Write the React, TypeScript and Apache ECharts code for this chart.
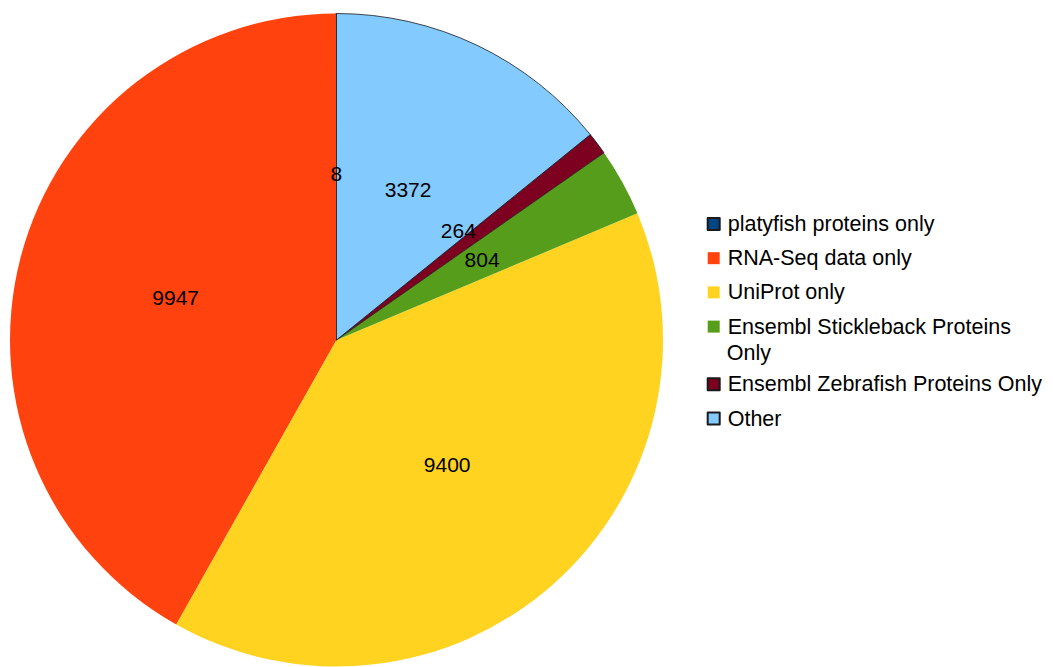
import React, { useEffect, useRef } from "react";
import * as echarts from "echarts";

const categories = [
  "platyfish proteins only",
  "RNA-Seq data only",
  "UniProt only",
  "Ensembl Stickleback Proteins Only",
  "Ensembl Zebrafish Proteins Only",
  "Other",
];
const values = [8, 9947, 9400, 804, 264, 3372];
const colors = ["#004586", "#ff420e", "#ffd320", "#579d1c", "#7e0021", "#83caff"];
const bordered = [true, false, false, false, true, true];

const FONT = "'Liberation Sans', Arial, sans-serif";

export default function App() {
  const ref = useRef<HTMLDivElement>(null);
  useEffect(() => {
    if (!ref.current) return;
    const chart = echarts.init(ref.current, undefined, { renderer: "svg" });
    const legendText = {
      fontFamily: FONT,
      fontSize: 21.5,
      color: "#000",
      lineHeight: 21.5,
      padding: [0, 0, 0, 3],
    };
    chart.setOption({
      animation: false,
      backgroundColor: "#fff",
      legend: [
        {
          data: categories.slice(0, 4),
          orient: "vertical",
          left: 706.7,
          top: 213,
          padding: 0,
          itemWidth: 12,
          itemHeight: 12,
          itemGap: 12.2,
          icon: "rect",
          selectedMode: false,
          formatter: (n: string) =>
            n === "Ensembl Stickleback Proteins Only" ? "Ensembl Stickleback Proteins" : n,
          textStyle: legendText,
        },
        {
          data: categories.slice(4),
          orient: "vertical",
          left: 706.7,
          top: 373.3,
          padding: 0,
          itemWidth: 12,
          itemHeight: 12,
          itemGap: 12.2,
          icon: "rect",
          selectedMode: false,
          textStyle: legendText,
        },
      ],
      graphic: [
        {
          type: "text",
          left: 726.7,
          top: 341.5,
          style: { text: "Only", font: `21.5px ${FONT}`, fill: "#000" },
        },
      ],
      series: [
        {
          type: "pie",
          center: [336.5, 340],
          radius: [0, 326.5],
          startAngle: 90,
          clockwise: false,
          minAngle: 0,
          avoidLabelOverlap: false,
          label: {
            show: true,
            position: "inside",
            formatter: "{c}",
            fontFamily: FONT,
            fontSize: 21,
            color: "#000",
          },
          labelLayout: (p: any) =>
            p.dataIndex === 4
              ? { hideOverlap: false, dx: -11, dy: -9 }
              : { hideOverlap: false },
          labelLine: { show: false },
          emphasis: { disabled: true },
          data: categories.map((name, i) => ({
            name,
            value: values[i],
            itemStyle: {
              color: colors[i],
              borderColor: bordered[i] ? "#1a1a1a" : colors[i],
              borderWidth: bordered[i] ? 0.8 : 0,
            },
          })),
        },
      ],
    });
    return () => chart.dispose();
  }, []);
  return (
    <div
      ref={ref}
      style={{ position: "fixed", left: 0, top: 0, width: 1053, height: 667 }}
    />
  );
}
